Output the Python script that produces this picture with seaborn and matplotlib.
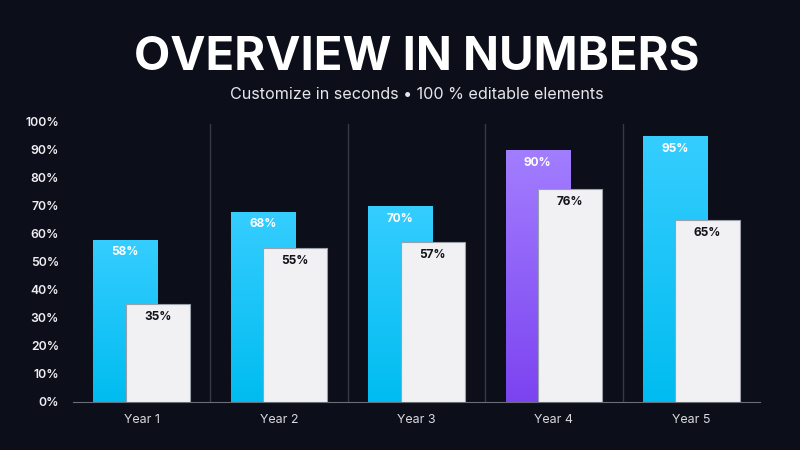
import numpy as np
import matplotlib
matplotlib.use("Agg")
import matplotlib.pyplot as plt
import seaborn as sns
import pandas as pd
from matplotlib.colors import LinearSegmentedColormap

years = ["Year 1", "Year 2", "Year 3", "Year 4", "Year 5"]
primary = [58, 68, 70, 90, 95]
secondary = [35, 55, 57, 76, 65]
yticks = [0, 10, 20, 30, 40, 50, 60, 70, 80, 90, 100]
highlight = "Year 4"
title = "OVERVIEW IN NUMBERS"
subtitle = "Customize in seconds • 100 % editable elements"

BG = "#0c0e19"
sns.set_theme(style="dark")
plt.rcParams["font.family"] = ["Inter", "DejaVu Sans"]

fig = plt.figure(figsize=(8, 4.5), dpi=100, facecolor=BG)
AX_L, AX_W = 0.091, 0.859
ax = fig.add_axes([AX_L, 0.1067, AX_W, 0.6223])
ax.set_facecolor(BG)

df = pd.DataFrame({"year": years, "primary": primary, "secondary": secondary})
W = 0.466
OFF = 0.118

sns.barplot(data=df, x="year", y="primary", width=W, ax=ax, color="#1ac6fb",
            linewidth=0, zorder=2)
n1 = len(ax.patches)
sns.barplot(data=df, x="year", y="secondary", width=W, ax=ax, color="#f1f0f4",
            edgecolor="#9aa0ab", linewidth=0.8, zorder=3)
p_patches = ax.patches[:n1]
s_patches = ax.patches[n1:]
for p in p_patches:
    p.set_x(p.get_x() - OFF)
for p in s_patches:
    p.set_x(p.get_x() + OFF)

blue = LinearSegmentedColormap.from_list("b", ["#00bcf0", "#36cdff"])
purple = LinearSegmentedColormap.from_list("p", ["#7c43f0", "#a27eff"])
grad = np.linspace(0, 1, 256).reshape(-1, 1)
for p, yr in zip(p_patches, years):
    x0, y0 = p.get_x(), p.get_y()
    w, h = p.get_width(), p.get_height()
    cm = purple if yr == highlight else blue
    im = ax.imshow(grad, cmap=cm, origin="lower", aspect="auto",
                   extent=[x0, x0 + w, y0, y0 + h], zorder=2.5)
    im.set_clip_path(p)

for p, v in zip(p_patches, primary):
    ax.text(p.get_x() + p.get_width() / 2, v - 2.4, f"{v}%", ha="center", va="top",
            color="white", fontsize=8.5, fontweight="bold", zorder=5)
for p, v in zip(s_patches, secondary):
    ax.text(p.get_x() + p.get_width() / 2, v - 2.4, f"{v}%", ha="center", va="top",
            color="#111318", fontsize=8.5, fontweight="bold", zorder=5)

ax.set_xlim(-0.5, len(years) - 0.5)
ax.set_ylim(0, 100)
for b in np.arange(0.5, len(years) - 0.5, 1):
    ax.plot([b, b], [0, 99.3], color="#363a46", lw=1, zorder=1)

ax.set_yticks(yticks)
ax.set_yticklabels([f"{t}%" for t in yticks])
ax.tick_params(axis="y", length=0, pad=10, labelsize=8.8, labelcolor="#f0f0f4")
for lab in ax.get_yticklabels():
    lab.set_fontweight("semibold")
ax.set_xticks(range(len(years)))
ax.set_xticklabels(years)
ax.tick_params(axis="x", length=0, pad=9, labelsize=9, labelcolor="#d8d9de")
ax.set_xticks(np.arange(-0.5, len(years), 1), minor=True)
ax.tick_params(axis="x", which="minor", length=4, color="#6a6e78", width=0.8, direction="out")
ax.set_xlabel("")
ax.set_ylabel("")
ax.grid(False)
for s in ["top", "right", "left"]:
    ax.spines[s].set_visible(False)
ax.spines["bottom"].set_color("#6a6e78")
ax.spines["bottom"].set_linewidth(0.8)

cx = AX_L + AX_W / 2
fig.text(cx, 0.872, title, ha="center", va="center", color="white",
         fontsize=34, fontweight="bold")
fig.text(cx, 0.79, subtitle, ha="center", va="center", color="#e6e7ec",
         fontsize=11.6)

fig.savefig("out.png", dpi=100, facecolor=BG)
